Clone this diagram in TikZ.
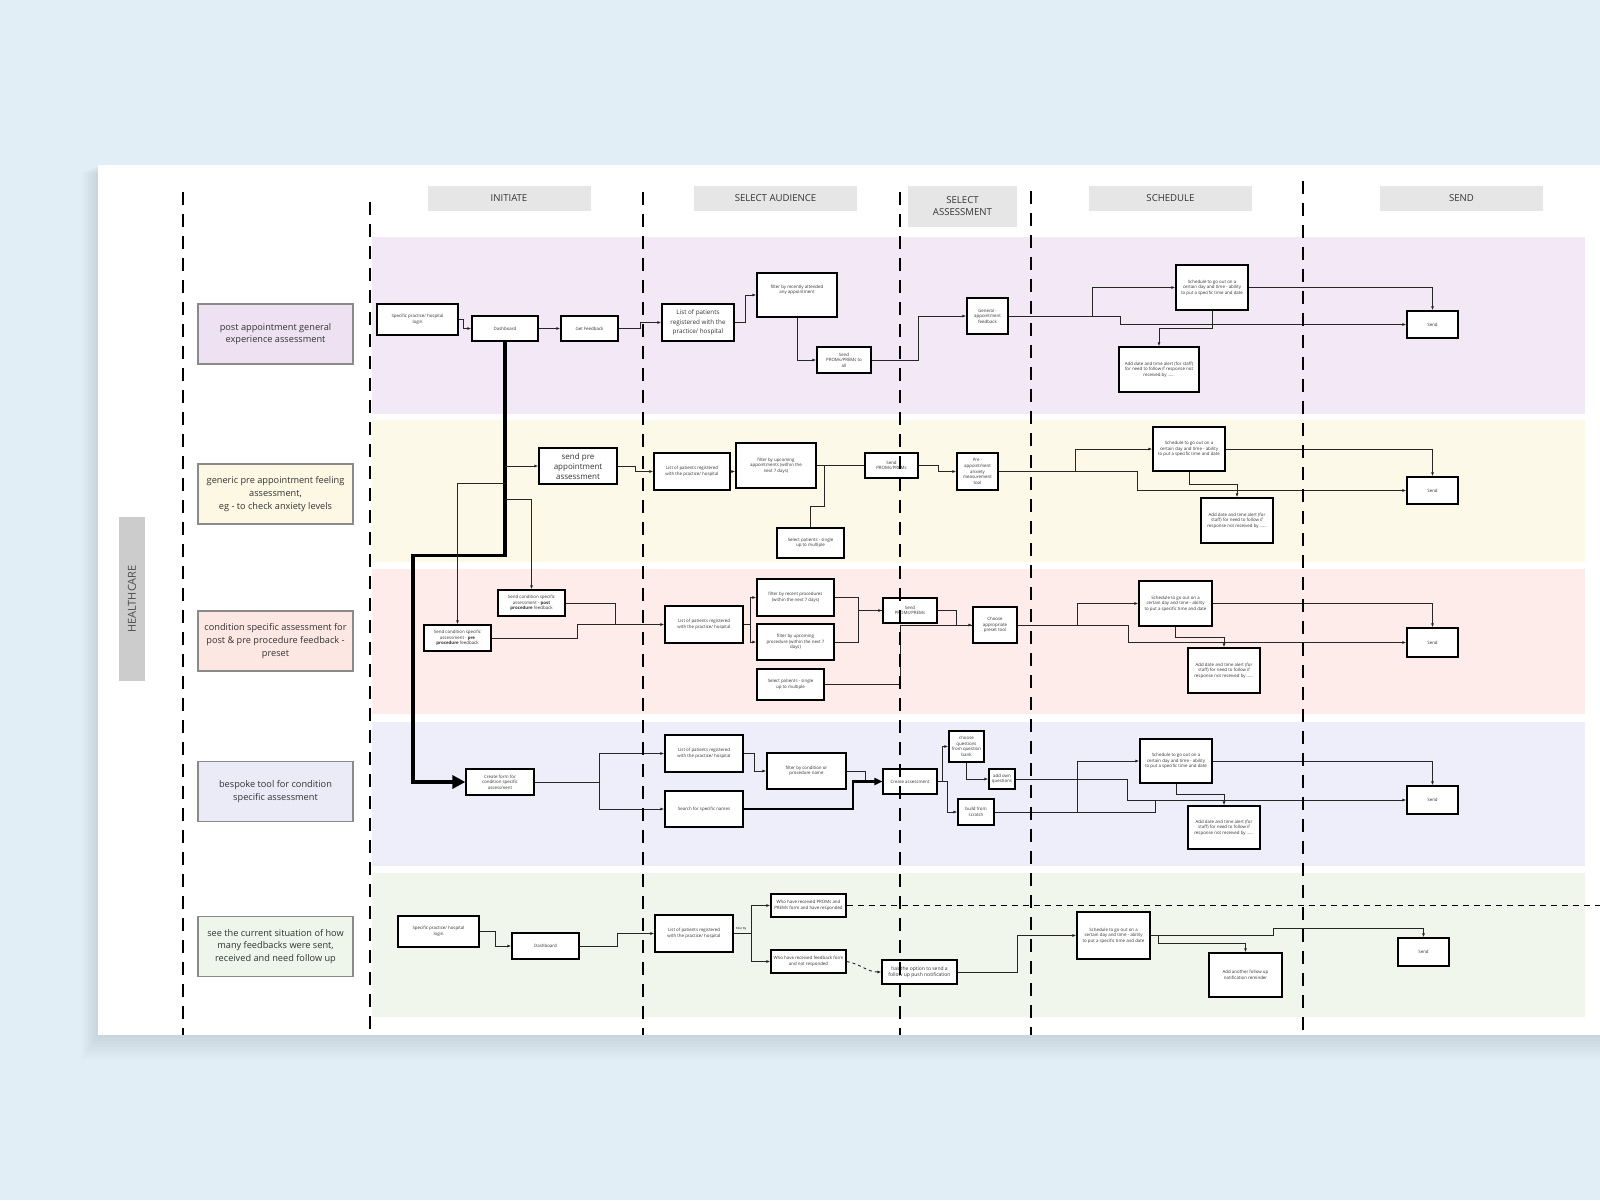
\documentclass[tikz,border=0pt]{standalone}
\usepackage{fontspec}
\setmainfont{Open Sans}
\usetikzlibrary{arrows.meta,positioning,calc}
\definecolor{bgblue}{HTML}{E2EEF5}
\definecolor{hdrgray}{HTML}{E6E6E6}
\definecolor{hcgray}{HTML}{CCCCCC}
\definecolor{labline}{HTML}{8A8A8A}
\definecolor{laneA}{HTML}{F3E9F6}
\definecolor{laneB}{HTML}{FDF9E9}
\definecolor{laneC}{HTML}{FDECE9}
\definecolor{laneD}{HTML}{EDEEF9}
\definecolor{laneE}{HTML}{F0F6EC}
\definecolor{labA}{HTML}{EEE2F2}
\definecolor{labB}{HTML}{FCF8E3}
\definecolor{labC}{HTML}{FCE7E3}
\definecolor{labD}{HTML}{EBEBF8}
\definecolor{labE}{HTML}{EEF5EA}
\tikzset{
  proc/.style={rectangle, draw=black, line width=1.3pt, fill=white, align=center, inner sep=1pt,
               text=black!80, font=\fontsize{4.4}{5.6}\selectfont},
  sz/.style 2 args={minimum width=#1pt, minimum height=#2pt},
  hdr/.style={rectangle, fill=hdrgray, align=center, text=black!80, font=\fontsize{9.6}{11.5}\selectfont},
  lab/.style={rectangle, draw=labline, line width=1.4pt, fill=#1, align=center, minimum width=155pt,
              minimum height=60pt, text=black!80, font=\fontsize{9.2}{12.6}\selectfont},
  arr/.style={-{Latex[length=4pt,width=3pt]}, line width=0.9pt, draw=black!85},
  ln/.style={line width=0.9pt, draw=black!85},
  bigarr/.style={-{Triangle[length=13pt,width=13pt]}, line width=3.5pt, draw=black},
  midarr/.style={-{Triangle[length=8pt,width=7pt]}, line width=2.2pt, draw=black},
  vdash/.style={line width=2.8pt, dash pattern=on 13pt off 9pt, draw=black},
}

\begin{document}
\begin{tikzpicture}[x=1pt, y=-1pt]
    \useasboundingbox (0,0) rectangle (1600,1200);
    \fill[bgblue] (0,0) rectangle (1600,1200);
    % card with soft shadow
    \foreach \i in {1,...,8}
      \fill[black, opacity=0.012] (98-\i*2,165+\i) rectangle (1600,1035+\i*3);
    \fill[white] (98,165) rectangle (1600,1035);

    % lanes
    \draw[fill=laneA, draw=none] (372,237) rectangle (1585,414);
    \draw[fill=laneB, draw=none] (372,420) rectangle (1585,562);
    \draw[fill=laneC, draw=none] (372,569) rectangle (1585,714);
    \draw[fill=laneD, draw=none] (372,722) rectangle (1585,866);
    \draw[fill=laneE, draw=none] (372,873) rectangle (1585,1017);

    % headers
    \node[hdr, sz={163}{25.5}] (hInit) at (509,198.5) {INITIATE};
    \node[hdr, sz={163}{25.5}] (hAud) at (775.5,198.5) {SELECT AUDIENCE};
    \node[hdr, sz={109}{41}] (hAss) at (962.5,206) {SELECT\\ASSESSMENT};
    \node[hdr, sz={163}{25.5}] (hSch) at (1170.5,198.5) {SCHEDULE};
    \node[hdr, sz={163}{25.5}] (hSend) at (1461.5,198.5) {SEND};
    \node[fill=hcgray, minimum width=164pt, minimum height=26pt, rotate=90, text=black!70,
          font=\fontsize{11}{13}\selectfont] (hc) at (132,599) {HEALTHCARE};

    % row labels
    \node[lab=labA] (labA) at (275.5,334) {post appointment general\\experience assessment};
    \node[lab=labB] (labB) at (275.5,494) {generic pre appointment feeling\\assessment,\\eg - to check anxiety levels};
    \node[lab=labC] (labC) at (275.5,641) {condition specific assessment for\\post \& pre procedure feedback -\\preset};
    \node[lab=labD] (labD) at (275.5,791.5) {bespoke tool for condition\\specific assessment};
    \node[lab=labE] (labE) at (275.5,946.5) {see the current situation of how\\many feedbacks were sent,\\received and need follow up};

    % lane 1
    \node[proc, sz={81}{31}] (l1login) at (417.5,319.5) {Specific practice/ hospital\\login};
    \node[proc, sz={66}{25}] (l1dash) at (505,328.5) {Dashboard};
    \node[proc, sz={57}{25}] (l1feed) at (589.5,328.5) {Get Feedback};
    \node[proc, sz={72}{37}, font=\fontsize{6.3}{9.3}\selectfont] (l1list) at (698,322.5) {List of patients\\registered with the\\practice/ hospital};
    \node[proc, sz={80}{44}] (l1filt) at (797,295) {filter by recently attended\\any appointment\\[6pt]};
    \node[proc, sz={54}{26}] (l1prom) at (844,360) {Send\\PROMs/PREMs to\\all};
    \node[proc, sz={41}{36}] (l1gen) at (987.5,316) {General -\\appointment\\feedback};
    \node[proc, sz={72}{45}] (l1sch) at (1212,287.5) {Schedule to go out on a\\certain day and time - ability\\to put a specific time and date};
    \node[proc, sz={80}{45}] (l1add) at (1159,369.5) {Add date and time alert (for staff)\\for need to follow if response not\\received by ......};
    \node[proc, sz={51}{27}] (l1send) at (1432.5,324.5) {Send};

    % lane 2
    \node[proc, sz={78}{36}, font=\fontsize{8}{10}\selectfont] (l2pre) at (578,466) {send pre\\appointment\\assessment};
    \node[proc, sz={76}{37}] (l2list) at (692,471.5) {List of patients registered\\with the practice/ hospital};
    \node[proc, sz={80}{45}] (l2filt) at (776,465.5) {filter by upcoming\\appointments (within the\\next 7 days)};
    \node[proc, sz={53}{25}] (l2prom) at (891.5,465.5) {Send\\PROMs/PREMs};
    \node[proc, sz={67}{30}] (l2sel) at (810.5,543) {Select patients - single\\up to multiple};
    \node[proc, sz={41}{37}] (l2anx) at (977.5,471.5) {Pre -\\appointment\\anxiety\\measurement\\tool};
    \node[proc, sz={72}{44}] (l2sch) at (1189,449) {Schedule to go out on a\\certain day and time - ability\\to put a specific time and date};
    \node[proc, sz={72}{45}] (l2add) at (1237,520.5) {Add date and time alert (for\\staff) for need to follow if\\response not received by ......};
    \node[proc, sz={51}{27}] (l2send) at (1432.5,490.5) {Send};

    % lane 3
    \node[proc, sz={67}{26}] (l3post) at (531.5,603) {Send condition specific\\assessment - \textbf{post}\\\textbf{procedure} feedback};
    \node[proc, sz={67}{26}] (l3pre) at (457.5,638) {Send condition specific\\assessment - \textbf{pre}\\\textbf{procedure} feedback};
    \node[proc, sz={78}{37}] (l3list) at (704,624.5) {List of patients registered\\with the practice/ hospital};
    \node[proc, sz={77}{37}] (l3rec) at (795.5,597.5) {filter by recent procedures\\(within the next 7 days)};
    \node[proc, sz={77}{36}] (l3upc) at (795.5,642) {filter by upcoming\\procedure (within the next 7\\days)};
    \node[proc, sz={67}{31}] (l3sel) at (790.5,684.5) {Select patients - single\\up to multiple};
    \node[proc, sz={54}{25}] (l3prom) at (910,610.5) {Send\\PROMs/PREMs};
    \node[proc, sz={44}{36}] (l3cho) at (995,625) {Choose\\appropriate\\preset tool};
    \node[proc, sz={73}{45}] (l3sch) at (1175.5,603.5) {Schedule to go out on a\\certain day and time - ability\\to put a specific time and date};
    \node[proc, sz={72}{45}] (l3add) at (1224,670.5) {Add date and time alert (for\\staff) for need to follow if\\response not received by ......};
    \node[proc, sz={51}{29}] (l3send) at (1432.5,642.5) {Send};

    % lane 4
    \node[proc, sz={68}{26}] (l4form) at (500,782) {Create form for\\condition specific\\assessment};
    \node[proc, sz={78}{37}] (l4list) at (704,753.5) {List of patients registered\\with the practice/ hospital};
    \node[proc, sz={78}{36}] (l4name) at (704,809) {Search for specific names};
    \node[proc, sz={79}{36}] (l4filt) at (806.5,771) {filter by condition or\\procedure name};
    \node[proc, sz={54}{25}] (l4ass) at (910,781.5) {Create assessment};
    \node[proc, sz={35}{31}, inner sep=0pt] (l4bank) at (966.5,746.5) {choose\\questions\\from question\\bank};
    \node[proc, sz={26}{20}, inner sep=0pt] (l4own) at (1002,779) {add own\\questions};
    \node[proc, sz={36}{26}] (l4scr) at (976,812) {build from\\scratch};
    \node[proc, sz={72}{44}] (l4sch) at (1176,761) {Schedule to go out on a\\certain day and time - ability\\to put a specific time and date};
    \node[proc, sz={72}{43}] (l4add) at (1224,827.5) {Add date and time alert (for\\staff) for need to follow if\\response not received by ......};
    \node[proc, sz={51}{28}] (l4send) at (1432.5,800) {Send};

    % lane 5
    \node[proc, sz={81}{31}] (l5login) at (438.5,931.5) {Specific practice/ hospital\\login};
    \node[proc, sz={67}{26}] (l5dash) at (545.5,946) {Dashboard};
    \node[proc, sz={78}{37}] (l5list) at (694,933.5) {List of patients registered\\with the practice/ hospital};
    \node[font=\fontsize{2.8}{3}\selectfont, inner sep=0pt] (fby) at (741,929) {Filter By};
    \node[proc, sz={75}{23}] (l5resp) at (808.5,905.5) {Who have received PROMs and\\PREMs form and have responded};
    \node[proc, sz={75}{23}] (l5not) at (808.5,961.5) {Who have received feedback form\\and not responded};
    \node[proc, sz={75}{24}, font=\fontsize{5}{6.5}\selectfont] (l5push) at (919.5,972) {has the option to send a\\follow up push notification};
    \node[proc, sz={73}{47}] (l5sch) at (1113.5,935.5) {Schedule to go out on a\\certain day and time - ability\\to put a specific time and date};
    \node[proc, sz={73}{44}] (l5add) at (1245.5,975) {Add another follow up\\notification reminder};
    \node[proc, sz={51}{28}] (l5send) at (1423.5,952) {Send};

    % lane 1 connectors
    \draw[arr] (l1login.east) -- ++(5,0) |- (l1dash.west);
    \draw[arr] (l1dash.east) -- (l1feed.west);
    \draw[arr] (l1feed.east) -- ++(22,0) |- (l1list.west);
    \draw[arr] (l1list.east) -- ++(11,0) |- (l1filt.west);
    \draw[arr] (l1filt.south) |- (l1prom.west);
    \draw[arr] (l1prom.east) -- ++(47,0) |- (l1gen.west);
    \draw[arr] (l1gen.east) -- ++(84,0) |- (l1sch.west);
    \draw[arr] (l1gen.east) -- ++(112,0) |- (l1send.west);
    \draw[arr] (l1sch.east) -| (l1send.north);
    \draw[arr] (l1sch.south) -- ++(0,18) -| (l1add.north);

    % dashboard trunk
    \draw[bigarr] (l1dash.south) -- ++(0,214) -- ++(-92,0) |- (l4form.west);
    \coordinate (tA) at (505,466);
    \coordinate (tB) at (505,483);
    \coordinate (tC) at (505,499);
    \draw[arr] (tA) -- (l2pre.west);
    \draw[arr] (tB) -| (l3pre.north);
    \draw[arr] (tC) -| (l3post.north);

    % lane 2 connectors
    \draw[arr] (l2pre.east) -- ++(18,0) |- (l2list.west);
    \draw[arr] (l2list.east) -- (l2list.east -| l2filt.west);
    \draw[ln] (l2filt.east) -- (l2prom.west);
    \coordinate (j2) at (824,465.5);
    \draw[ln] (l2sel.north) -- ++(0,-21) -| (j2);
    \draw[arr] (l2prom.east) -- ++(20,0) |- (l2anx.west);
    \draw[arr] (l2anx.east) -- ++(77,0) |- (l2sch.west);
    \draw[arr] (l2anx.east) -- ++(139,0) |- (l2send.west);
    \draw[arr] (l2sch.east) -| (l2send.north);
    \draw[arr] (l2sch.south) -- ++(0,13) -| (l2add.north);

    % lane 3 connectors
    \coordinate (j3) at (615,624.5);
    \draw[ln] (l3post.east) -| (j3);
    \draw[arr] (l3pre.east) -- ++(86,0) |- (l3list.west);
    \draw[arr] (l3list.east) -- ++(7,0) |- (l3rec.west);
    \draw[arr] (l3list.east) -- ++(7,0) |- (l3upc.west);
    \draw[ln] (l3upc.east) -- ++(24,0) |- (l3prom.west);
    \draw[arr] (l3rec.east) -- ++(24,0) |- (l3prom.west);
    \draw[ln] (l3sel.east) -- ++(76,0) |- (l3cho.west);
    \draw[arr] (l3prom.east) -- ++(19,0) |- (l3cho.west);
    \draw[arr] (l3cho.east) -- ++(60,0) |- (l3sch.west);
    \draw[arr] (l3cho.east) -- ++(111,0) |- (l3send.west);
    \draw[arr] (l3sch.east) -| (l3send.north);
    \draw[arr] (l3sch.south) -- ++(0,11) -| (l3add.north);

    % lane 4 connectors
    \draw[arr] (l4form.east) -- ++(65,0) |- (l4list.west);
    \draw[arr] (l4form.east) -- ++(65,0) |- (l4name.west);
    \draw[arr] (l4list.east) -- ++(11,0) |- (l4filt.west);
    \draw[ln] (l4filt.east) -- ++(19,0) |- (l4ass.west);
    \draw[midarr] (l4name.east) -- ++(109,0) |- (l4ass.west);
    \draw[arr] (l4ass.east) -- ++(5,0) |- (l4bank.west);
    \draw[arr] (l4ass.east) -- ++(10,0) |- (l4scr.west);
    \draw[arr] (l4bank.south) |- (l4own.west);
    \draw[arr] (l4own.east) -- ++(112,0) |- (l4send.west);
    \draw[arr] (l4scr.east) -- ++(83,0) |- (l4sch.west);
    \coordinate (j4) at (1155,800);
    \draw[ln] (l4scr.east) -| (j4);
    \draw[arr] (l4sch.east) -| (l4send.north);
    \draw[arr] (l4sch.south) -- ++(0,11) -| (l4add.north);

    % lane 5 connectors
    \draw[arr] (l5login.east) -- ++(16,0) |- (l5dash.west);
    \draw[arr] (l5dash.east) -- ++(38,0) |- (l5list.west);
    \draw[arr] (l5list.east) -- ++(18,0) |- (l5resp.west);
    \draw[arr] (l5list.east) -- ++(18,0) |- (l5not.west);
    \coordinate (edge5) at (1600,905.5);
    \draw[line width=1.5pt, dash pattern=on 6pt off 5pt] (l5resp.east) -- (edge5);
    \draw[arr, dashed] (l5not.east) to[out=-10, in=180] (l5push.west);
    \draw[arr] (l5push.east) -- ++(60,0) |- (l5sch.west);
    \draw[arr] (l5sch.east) -- ++(123,0) -- ++(0,-7) -| (l5send.north);
    \draw[arr] (l5sch.east) -- ++(8,0) -- ++(0,7.5) -| (l5add.north);

    % phase separators
    \foreach \x/\y in {183/192, 370/202, 643/192, 900/192, 1031/191, 1303/181}
      \draw[vdash] (\x,\y) -- (\x,1035);
\end{tikzpicture}
\end{document}
